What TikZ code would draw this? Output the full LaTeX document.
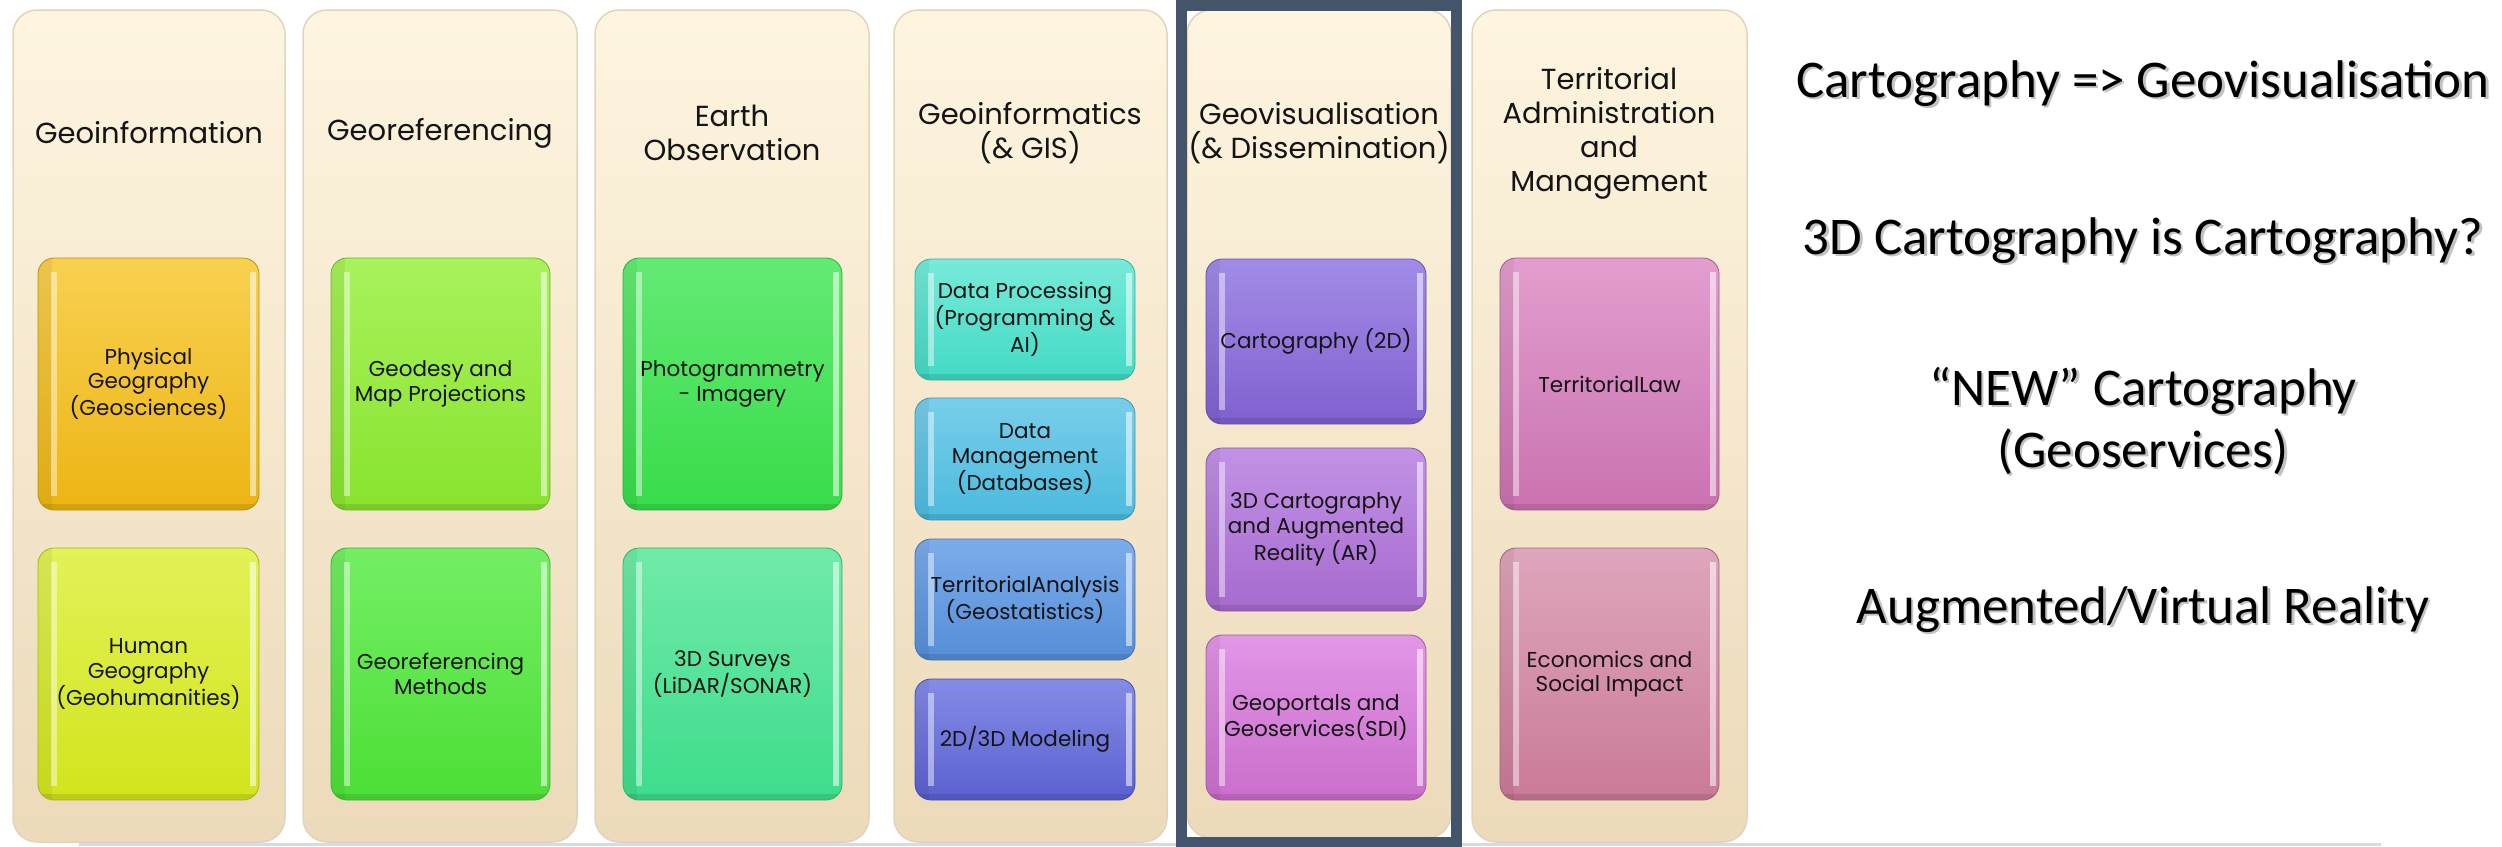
\documentclass[tikz,border=0pt]{standalone}
\usepackage{fontspec}
\setmainfont{Poppins}
\newfontfamily\calib{Carlito}
\definecolor{frameblue}{HTML}{44546A}
\definecolor{colTop}{HTML}{FEF5E0}
\definecolor{colBot}{HTML}{ECDABA}
\definecolor{colEdge}{HTML}{E2D4BC}
\definecolor{slideline}{HTML}{D9D9EC}
\definecolor{shadowgray}{HTML}{9A9A9A}
\definecolor{b11t}{HTML}{F8D050}\definecolor{b11b}{HTML}{ECB514}
\definecolor{b12t}{HTML}{E2F258}\definecolor{b12b}{HTML}{D2E41C}
\definecolor{b21t}{HTML}{A8F25C}\definecolor{b21b}{HTML}{88E32E}
\definecolor{b22t}{HTML}{74EE64}\definecolor{b22b}{HTML}{4CDF36}
\definecolor{b31t}{HTML}{64EA74}\definecolor{b31b}{HTML}{38DC4A}
\definecolor{b32t}{HTML}{70EAA8}\definecolor{b32b}{HTML}{3EDC8C}
\definecolor{b41t}{HTML}{78EADA}\definecolor{b41b}{HTML}{42DAC4}
\definecolor{b42t}{HTML}{78CEEA}\definecolor{b42b}{HTML}{4CBADE}
\definecolor{b43t}{HTML}{7CACEA}\definecolor{b43b}{HTML}{548ED8}
\definecolor{b44t}{HTML}{848CE6}\definecolor{b44b}{HTML}{5A60D0}
\definecolor{b51t}{HTML}{A28CE6}\definecolor{b51b}{HTML}{8060D0}
\definecolor{b52t}{HTML}{C292E6}\definecolor{b52b}{HTML}{A66ACE}
\definecolor{b53t}{HTML}{E296E6}\definecolor{b53b}{HTML}{CA6ECC}
\definecolor{b61t}{HTML}{E29ECE}\definecolor{b61b}{HTML}{CA72B0}
\definecolor{b62t}{HTML}{DEA6BC}\definecolor{b62b}{HTML}{CA7A98}
\newcommand\titlefont{\fontsize{29}{34}\selectfont}
\newcommand\itemfont{\fontsize{21.5}{24.5}\selectfont}
\newcommand\sidefont{\calib\fontsize{53}{62}\selectfont}
\tikzset{
  column/.style={rounded corners=24pt, top color=colTop, bottom color=colBot,
    draw=colEdge, line width=1.5pt, inner sep=0pt},
  coltitle/.style={align=center, font=\titlefont, text=black!92, inner sep=0pt},
  itembox/.style={rounded corners=16pt, top color=#1t, bottom color=#1b,
    draw=#1b!80!black, line width=0.8pt, inner sep=0pt, align=center,
    font=\itemfont, text=black!92,
    path picture={
      \fill[sharp corners,black,opacity=0.05] (path picture bounding box.north west) rectangle
        ([xshift=14pt]path picture bounding box.south west);
      \fill[sharp corners,white,opacity=0.45] ([xshift=13pt,yshift=-14pt]path picture bounding box.north west)
        rectangle ([xshift=19pt,yshift=14pt]path picture bounding box.south west);
      \fill[sharp corners,white,opacity=0.55] ([xshift=-9pt,yshift=-14pt]path picture bounding box.north east)
        rectangle ([xshift=-3pt,yshift=14pt]path picture bounding box.south east);
      \fill[sharp corners,black,opacity=0.10] ([yshift=6pt]path picture bounding box.south west)
        rectangle (path picture bounding box.south east);
    }},
  sidetext/.style={anchor=base, font=\sidefont, text=black, inner sep=0pt},
  sideshadow/.style={anchor=base, font=\sidefont, text=shadowgray, opacity=0.6, inner sep=0pt},
}
\begin{document}
\begin{tikzpicture}[x=1pt,y=-1pt]
\useasboundingbox (0,0) rectangle (2502,846);
\fill[white] (0,0) rectangle (2502,846);
\draw[slideline, line width=3pt] (79,844) -- (2381,844);

% columns
\node[column, minimum width=272pt, minimum height=832pt] (c1) at (149,426) {};
\node[column, minimum width=274pt, minimum height=832pt] (c2) at (440,426) {};
\node[column, minimum width=274pt, minimum height=832pt] (c3) at (732,426) {};
\node[column, minimum width=273pt, minimum height=832pt] (c4) at (1030.5,426) {};
\node[column, minimum width=264pt, minimum height=828pt] (c5) at (1319,424) {};
\node[column, minimum width=275pt, minimum height=832pt] (c6) at (1609.5,426) {};
\draw[frameblue, line width=11pt] (1181,5.5) rectangle (1456.5,842.5);

% titles
\node[coltitle] (t1) at (149,133) {Geoinformation};
\node[coltitle] (t2) at (440,133) {Georeferencing};
\node[coltitle] (t3) at (732,133) {Earth\\Observation};
\node[coltitle] (t4) at (1030,133) {Geoinformatics\\(\& GIS)};
\node[coltitle] (t5) at (1319,133) {Geovisualisation\\(\& Dissemination)};
\node[coltitle] (t6) at (1609,133) {Territorial\\Administration\\and\\Management};

% column 1
\node[itembox=b11, minimum width=221pt, minimum height=252pt] (b11) at (148.5,384) {Physical\\Geography\\(Geosciences)};
\node[itembox=b12, minimum width=221pt, minimum height=252pt] (b12) at (148.5,674) {Human\\Geography\\(Geohumanities)};
% column 2
\node[itembox=b21, minimum width=219pt, minimum height=252pt] (b21) at (440.5,384) {Geodesy and\\Map Projections};
\node[itembox=b22, minimum width=219pt, minimum height=252pt] (b22) at (440.5,674) {Georeferencing\\Methods};
% column 3
\node[itembox=b31, minimum width=219pt, minimum height=252pt] (b31) at (732.5,384) {Photogrammetry\\- Imagery};
\node[itembox=b32, minimum width=219pt, minimum height=252pt] (b32) at (732.5,674) {3D Surveys\\(LiDAR/SONAR)};
% column 4
\node[itembox=b41, minimum width=220pt, minimum height=121pt] (b41) at (1025,319.5) {Data Processing\\(Programming \&\\AI)};
\node[itembox=b42, minimum width=220pt, minimum height=122pt] (b42) at (1025,459) {Data\\Management\\(Databases)};
\node[itembox=b43, minimum width=220pt, minimum height=121pt] (b43) at (1025,599.5) {TerritorialAnalysis\\(Geostatistics)};
\node[itembox=b44, minimum width=220pt, minimum height=121pt] (b44) at (1025,739.5) {2D/3D Modeling};
% column 5
\node[itembox=b51, minimum width=220pt, minimum height=165pt] (b51) at (1316,341.5) {Cartography (2D)};
\node[itembox=b52, minimum width=220pt, minimum height=163pt] (b52) at (1316,529.5) {3D Cartography\\and Augmented\\Reality (AR)};
\node[itembox=b53, minimum width=220pt, minimum height=165pt] (b53) at (1316,717.5) {Geoportals and\\Geoservices(SDI)};
% column 6
\node[itembox=b61, minimum width=219pt, minimum height=252pt] (b61) at (1609.5,384) {TerritorialLaw};
\node[itembox=b62, minimum width=219pt, minimum height=252pt] (b62) at (1609.5,674) {Economics and\\Social Impact};

% side remarks
\node[sideshadow] (s1s) at (2145.5,99.5) {Cartography => Geovisualisation};
\node[sidetext] (s1) at (2143,97) {Cartography => Geovisualisation};
\node[sideshadow] (s2s) at (2145.5,256.5) {3D Cartography is Cartography?};
\node[sidetext] (s2) at (2143,254) {3D Cartography is Cartography?};
\node[sideshadow] (s3s) at (2145.5,407.5) {“NEW” Cartography};
\node[sidetext] (s3) at (2143,405) {“NEW” Cartography};
\node[sideshadow] (s4s) at (2145.5,469.5) {(Geoservices)};
\node[sidetext] (s4) at (2143,467) {(Geoservices)};
\node[sideshadow] (s5s) at (2145.5,625.5) {Augmented/Virtual Reality};
\node[sidetext] (s5) at (2143,623) {Augmented/Virtual Reality};
\end{tikzpicture}
\end{document}
